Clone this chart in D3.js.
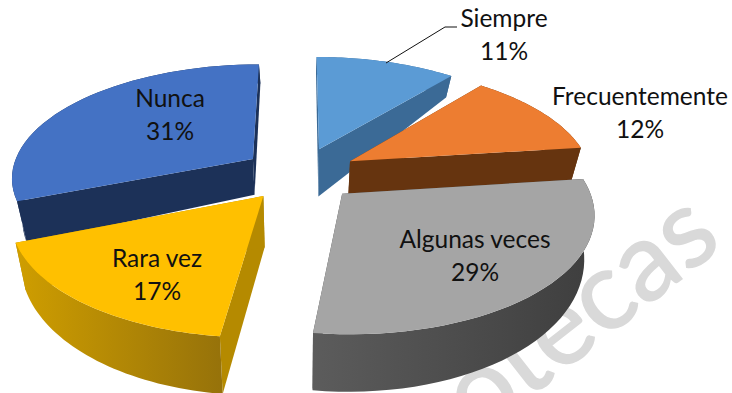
<!DOCTYPE html>
<html lang="es">
<head>
  <meta charset="UTF-8" />
  <title>d3</title>
  <script src="https://cdn.jsdelivr.net/npm/d3@7"></script>
  <style>
    html, body { margin: 0; padding: 0; background: #fff; }
    text { font-family: Lato, "Open Sans", sans-serif; fill: #111; }
  </style>
</head>
<body>
  <svg id="svg"></svg>
<script>
  const categories = ["Siempre", "Frecuentemente", "Algunas veces", "Rara vez", "Nunca"];
  const percents = [11, 12, 29, 17, 31];

  const width = 732;
  const height = 393;

  // colours per slice: top, cut face, outer wall left/right
  const topColor = ["#5b9bd5", "#ed7d31", "#a5a5a5", "#ffc000", "#4472c4"];
  const cutColor = ["#3b6a96", "#66340f", "#4a4a4a", "#b58a00", "#1c3158"];
  const wallLeft = ["#3b6a96", "#66340f", "#5c5c5c", "#cf9e00", "#1c3158"];
  const wallRight = ["#3b6a96", "#66340f", "#3e3e3e", "#96720a", "#1c3158"];
  const labelX = [504, 640, 475, 157, 170];
  const labelY = [27, 105, 248, 267, 107];
  const drawOrder = [0, 1, 2, 4, 3];
  // extra depth at the inner tip, the slices are not quite even there
  const tipExtra = [13, 0, 0, 10, 0];

  const explode = 0.24;
  const persp = 0.15;
  const bottomShrink = 0.965;
  const centerX = 300;

  const svg = d3.select("#svg").attr("width", width).attr("height", height);
  const defs = svg.append("defs");

  // unit disc -> screen, with a bit of perspective
  const xScale = d3.scaleLinear().domain([-1, 1]).range([centerX - 242, centerX + 242]);
  const yScale = d3.scaleLinear().domain([-1, 1]).range([174 - 113, 174 + 113]);
  const depthScale = d3.scaleLinear().domain([-0.3, 1.2]).range([33, 58]);

  function project(u, v) {
    const s = 1 / (1 - persp * v);
    return [xScale(u * s), yScale(v * s)];
  }

  function lower(u, v, extra = 0) {
    const p = project(u, v);
    return [centerX + (p[0] - centerX) * bottomShrink, p[1] + depthScale(v) + extra];
  }

  const pie = d3.pie().sort(null).value(d => d);
  const slices = pie(percents);
  const line = d3.line();

  // watermark sits behind the pie
  svg.append("text")
    .attr("transform", "translate(725,245) rotate(-38)")
    .attr("text-anchor", "end")
    .attr("font-size", 110)
    .style("fill", "#d9d9d9")
    .style("stroke", "#d9d9d9")
    .style("stroke-width", 1.5)
    .text("otecas");

  drawOrder.forEach(i => {
    const d = slices[i];
    const mid = (d.startAngle + d.endAngle) / 2;
    const ox = explode * Math.sin(mid);
    const oy = -explode * Math.cos(mid);
    const rim = d3.range(0, 41).map(j => {
      const a = d.startAngle + (d.endAngle - d.startAngle) * j / 40;
      return [ox + Math.sin(a), oy - Math.cos(a)];
    });
    const first = rim[0];
    const last = rim[rim.length - 1];
    const g = svg.append("g");

    const cut = q => [project(ox, oy), project(q[0], q[1]), lower(q[0], q[1]), lower(ox, oy, tipExtra[i])];
    g.append("path").attr("d", line(cut(first)) + "Z").attr("fill", cutColor[i]);
    g.append("path").attr("d", line(cut(last)) + "Z").attr("fill", cutColor[i]);

    const wall = rim.map(q => project(q[0], q[1]))
      .concat(rim.slice().reverse().map(q => lower(q[0], q[1])));
    const ext = d3.extent(wall, q => q[0]);
    const grad = defs.append("linearGradient")
      .attr("id", "wall" + i)
      .attr("gradientUnits", "userSpaceOnUse")
      .attr("x1", ext[0]).attr("x2", ext[1])
      .attr("y1", 0).attr("y2", 0);
    grad.append("stop").attr("offset", 0).attr("stop-color", wallLeft[i]);
    grad.append("stop").attr("offset", 1).attr("stop-color", wallRight[i]);
    g.append("path").attr("d", line(wall) + "Z").attr("fill", `url(#wall${i})`);

    const top = [project(ox, oy)].concat(rim.map(q => project(q[0], q[1])));
    g.append("path").attr("d", line(top) + "Z").attr("fill", topColor[i]);
  });

  // labels
  categories.forEach((c, i) => {
    const t = svg.append("text")
      .attr("text-anchor", "middle")
      .attr("font-size", 24.5);
    t.append("tspan").attr("x", labelX[i]).attr("y", labelY[i]).text(c);
    t.append("tspan").attr("x", labelX[i]).attr("y", labelY[i] + 33).text(percents[i] + "%");
  });

  // leader for Siempre
  svg.append("path")
    .attr("d", d3.line()([[386, 63], [445, 27], [457, 27]]))
    .attr("fill", "none")
    .attr("stroke", "#111")
    .attr("stroke-width", 1);
</script>
</body>
</html>
